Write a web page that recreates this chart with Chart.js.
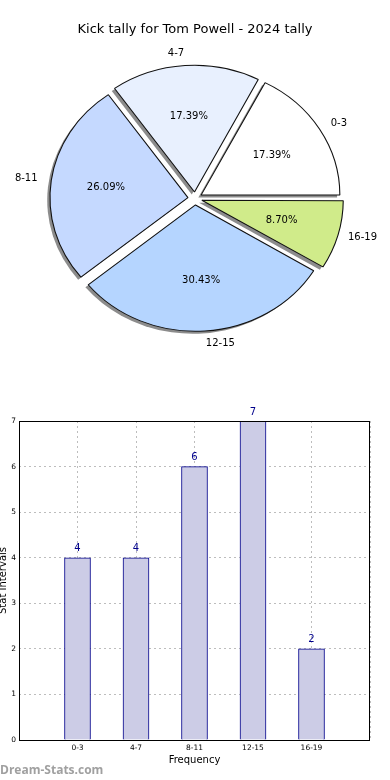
<!DOCTYPE html>
<html>
<head>
<meta charset="utf-8">
<script src="https://cdn.jsdelivr.net/npm/chart.js@4.4.1/dist/chart.umd.min.js"></script>
<style>
  html, body { margin: 0; padding: 0; background: #fff; }
  canvas { display: block; }
</style>
</head>
<body>
<canvas id="pieChart" width="390" height="390"></canvas>
<canvas id="barChart" width="390" height="390"></canvas>
<script>
var chartTitle = "Kick tally for Tom Powell - 2024 tally";
var categories = ["0-3", "4-7", "8-11", "12-15", "16-19"];
var counts = [4, 4, 6, 7, 2];
var sliceColors = ["#ffffff", "#e8f0fe", "#c5d9ff", "#b5d5ff", "#d0eb8a"];
var yTicks = [0, 1, 2, 3, 4, 5, 6, 7];

var font = "'DejaVu Sans', sans-serif";
var squash = 1.095; // pie comes out a little wider than tall
var shadowShift = 2.5;

// pie runs counter clockwise from 3 o'clock, chart.js goes clockwise, so flip
var pieLabels = categories.slice().reverse();
var pieValues = counts.slice().reverse();
var pieColors = sliceColors.slice().reverse();

function sliceGeometry(arc) {
  var mid = (arc.startAngle + arc.endAngle) / 2;
  var circ = arc.endAngle - arc.startAngle;
  var shift = (arc.options.offset || 0) / 4;
  var grow = shift * (1 - Math.sin(Math.min(Math.PI, circ)));
  return { mid: mid, dx: Math.cos(mid) * shift, dy: Math.sin(mid) * shift, r: arc.outerRadius + grow };
}

var pieDecor = {
  id: "pieDecor",
  beforeDatasetsDraw: function (chart) {
    var ctx = chart.ctx;
    var arcs = chart.getDatasetMeta(0).data;
    var cx = arcs[0].x, cy = arcs[0].y;
    ctx.save();
    ctx.translate(cx, cy);
    ctx.scale(squash, 1);
    ctx.translate(-cx, -cy);
    // shadows go under all the slices
    ctx.fillStyle = "#8c8c8c";
    arcs.forEach(function (arc) {
      var g = sliceGeometry(arc);
      var x = arc.x + g.dx - shadowShift;
      var y = arc.y + g.dy + shadowShift;
      ctx.beginPath();
      ctx.moveTo(x, y);
      ctx.arc(x, y, g.r, arc.startAngle, arc.endAngle);
      ctx.closePath();
      ctx.fill();
    });
  },
  afterDatasetsDraw: function (chart) {
    var ctx = chart.ctx;
    ctx.restore();
    var arcs = chart.getDatasetMeta(0).data;
    var values = chart.data.datasets[0].data;
    var total = values.reduce(function (a, b) { return a + b; }, 0);
    ctx.save();
    ctx.fillStyle = "#000";
    ctx.font = "10px " + font;
    ctx.textBaseline = "middle";
    arcs.forEach(function (arc, i) {
      var g = sliceGeometry(arc);
      var c = Math.cos(g.mid), s = Math.sin(g.mid);
      var r = arc.outerRadius;
      var lx = arc.x + (g.dx + 1.1 * r * c) * squash;
      var ly = arc.y + g.dy + 1.1 * r * s;
      ctx.textAlign = c >= 0 ? "left" : "right";
      ctx.fillText(chart.data.labels[i], lx, ly);
      var px = arc.x + (g.dx + 0.6 * r * c) * squash;
      var py = arc.y + g.dy + 0.6 * r * s;
      ctx.textAlign = "center";
      ctx.fillText((values[i] / total * 100).toFixed(2) + "%", px, py);
    });
    ctx.restore();
  }
};

new Chart(document.getElementById("pieChart"), {
  type: "pie",
  data: {
    labels: pieLabels,
    datasets: [{
      data: pieValues,
      backgroundColor: pieColors,
      borderColor: "#111",
      borderWidth: 1,
      offset: 26
    }]
  },
  options: {
    responsive: false,
    animation: false,
    events: [],
    rotation: 90,
    radius: 126,
    layout: { padding: { top: 0, bottom: 40.6, left: 0, right: 0 } },
    datasets: { pie: { clip: false } },
    plugins: {
      legend: { display: false },
      tooltip: { enabled: false },
      title: {
        display: true,
        text: chartTitle,
        color: "#000",
        font: { family: font, size: 13, weight: "normal" },
        padding: { top: 22, bottom: 10 }
      }
    }
  },
  plugins: [pieDecor]
});

// bar chart: one empty slot each side so the bars sit like the original
var barLabels = [""].concat(categories, [""]);
var barValues = [null].concat(counts, [null]);

var barDecor = {
  id: "barDecor",
  afterDraw: function (chart) {
    var ctx = chart.ctx;
    var a = chart.chartArea;
    ctx.save();
    ctx.strokeStyle = "#000";
    ctx.lineWidth = 1;
    ctx.strokeRect(Math.round(a.left) + 0.5, Math.round(a.top) + 0.5,
      Math.round(a.right - a.left) - 1, Math.round(a.bottom - a.top));

    var bars = chart.getDatasetMeta(0).data;
    var values = chart.data.datasets[0].data;
    ctx.fillStyle = "#00008b";
    ctx.font = "10px " + font;
    ctx.textAlign = "center";
    ctx.textBaseline = "middle";
    bars.forEach(function (bar, i) {
      if (values[i] == null) return;
      ctx.fillText(values[i], bar.x, bar.y - 9);
    });

    ctx.fillStyle = "#a0a0a0";
    ctx.font = "bold 12px 'Open Sans', sans-serif";
    ctx.textAlign = "left";
    ctx.fillText("Dream-Stats.com", 0, 381);
    ctx.restore();
  }
};

new Chart(document.getElementById("barChart"), {
  type: "bar",
  data: {
    labels: barLabels,
    datasets: [{
      data: barValues,
      backgroundColor: "#cccce6",
      borderColor: "#00008b",
      borderWidth: 1,
      barThickness: 26
    }]
  },
  options: {
    responsive: false,
    animation: false,
    events: [],
    layout: { padding: { top: 31, right: 20, bottom: 14, left: 0 } },
    plugins: {
      legend: { display: false },
      tooltip: { enabled: false }
    },
    scales: {
      x: {
        offset: false,
        z: 1,
        grid: { color: "#bdbdbd", lineWidth: 1, drawTicks: false, offset: false },
        border: { display: false, dash: [2, 3] },
        ticks: { color: "#000", font: { family: font, size: 7.5 }, padding: 4, maxRotation: 0, autoSkip: false },
        title: { display: true, text: "Frequency", color: "#000", font: { family: font, size: 10 }, padding: 0 },
        afterFit: function (s) { s.height = 26; }
      },
      y: {
        min: yTicks[0],
        max: yTicks[yTicks.length - 1],
        z: 1,
        grid: { color: "#bdbdbd", lineWidth: 1, drawTicks: false },
        border: { display: false, dash: [2, 3] },
        afterBuildTicks: function (s) { s.ticks = yTicks.map(function (v) { return { value: v }; }); },
        ticks: { color: "#000", font: { family: font, size: 7.5 }, padding: 3 },
        title: { display: true, text: "Stat Intervals", color: "#000", font: { family: font, size: 10 }, padding: { top: -3, bottom: 0 } },
        afterFit: function (s) { s.width = 19; }
      }
    }
  },
  plugins: [barDecor]
});
</script>
</body>
</html>
